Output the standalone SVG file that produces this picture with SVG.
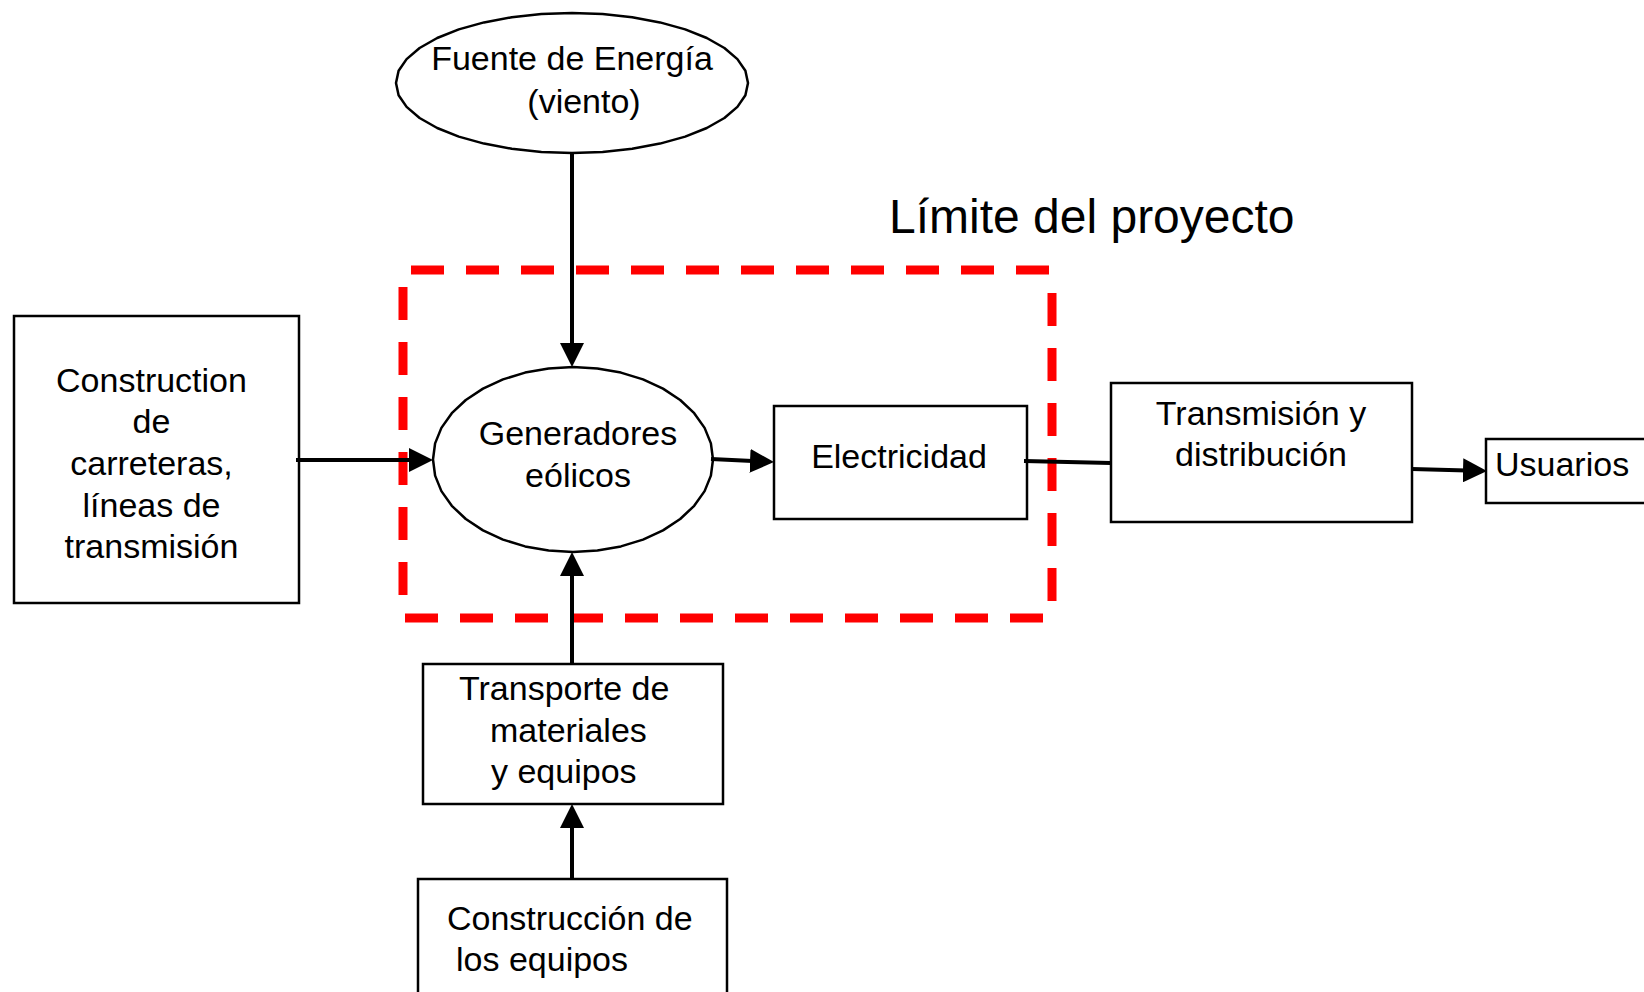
<svg xmlns="http://www.w3.org/2000/svg" width="1644" height="992" viewBox="0 0 1644 992">
<style>
  .box { fill: #fff; stroke: #000; stroke-width: 2.5; }
  .ell { fill: #fff; stroke: #000; stroke-width: 2.5; stroke-linejoin: round; }
  .lbl { font-family: "Liberation Sans", Arial, sans-serif; font-size: 34px; fill: #000; }
  .mid { text-anchor: middle; }
  .conn { stroke: #000; stroke-width: 4; fill: none; }
  .limit { stroke: #ff0000; stroke-width: 9; fill: none; stroke-dasharray: 33 22; }
  .title { font-family: "Liberation Sans", Arial, sans-serif; font-size: 48px; fill: #000; }
</style>
<defs>
  <marker id="arrow" markerUnits="userSpaceOnUse" markerWidth="24" markerHeight="24" viewBox="0 0 24 24" refX="13" refY="12" orient="auto">
    <path d="M0,0 L24,12 L0,24 z" fill="#000"/>
  </marker>
</defs>
<rect width="1644" height="992" fill="#fff"/>

<g id="limite">
  <line class="limit" x1="411" y1="270" x2="1054" y2="270"/>
  <line class="limit" x1="1052" y1="293" x2="1052" y2="606"/>
  <line class="limit" x1="405" y1="618" x2="1046" y2="618"/>
  <line class="limit" x1="403" y1="287" x2="403" y2="597"/>
  <text class="title" x="889" y="233">Límite del proyecto</text>
</g>

<g id="fuente">
  <polygon class="ell" points="748,83 745.4,95.2 737.4,106.9 724.4,118 706.8,128 685.2,136.6 660,143.6 632.2,148.8 602.6,152 572,153 541.4,152 511.8,148.8 484,143.6 458.8,136.6 437.2,128 419.6,118 406.6,106.9 398.6,95.2 396,83 398.6,70.8 406.6,59.1 419.6,48 437.2,38 458.8,29.4 484,22.4 511.8,17.2 541.4,14 572,13 602.6,14 632.2,17.2 660,22.4 685.2,29.4 706.8,38 724.4,48 737.4,59.1 745.4,70.8"/>
  <text class="lbl mid" x="572" y="70">Fuente de Energía</text>
  <text class="lbl mid" x="584" y="113">(viento)</text>
</g>

<g id="generadores">
  <polygon class="ell" points="713,459.5 710.9,475.6 704.6,491.1 694.2,505.8 680.2,519 663,530.4 643,539.6 620.9,546.4 597.4,550.6 573,552 548.6,550.6 525.1,546.4 503,539.6 483,530.4 465.8,519 451.8,505.8 441.4,491.1 435.1,475.6 433,459.5 435.1,443.4 441.4,427.9 451.8,413.2 465.8,400 483,388.6 503,379.4 525.1,372.6 548.6,368.4 573,367 597.4,368.4 620.9,372.6 643,379.4 663,388.6 680.2,400 694.2,413.2 704.6,427.9 710.9,443.4"/>
  <text class="lbl mid" x="578" y="445">Generadores</text>
  <text class="lbl mid" x="578" y="487">eólicos</text>
</g>

<g id="construction">
  <rect class="box" x="14" y="316" width="285" height="287"/>
  <text class="lbl mid" x="151.5" y="392">Construction</text>
  <text class="lbl mid" x="151.5" y="433">de</text>
  <text class="lbl mid" x="151.5" y="475">carreteras,</text>
  <text class="lbl mid" x="151.5" y="517">líneas de</text>
  <text class="lbl mid" x="151.5" y="558">transmisión</text>
</g>

<g id="electricidad">
  <rect class="box" x="774" y="406" width="253" height="113"/>
  <text class="lbl mid" x="899" y="468">Electricidad</text>
</g>

<g id="transmision">
  <rect class="box" x="1111" y="383" width="301" height="139"/>
  <text class="lbl mid" x="1261" y="425">Transmisión y</text>
  <text class="lbl mid" x="1261" y="466">distribución</text>
</g>

<g id="usuarios">
  <rect class="box" x="1486" y="439" width="170" height="64"/>
  <text class="lbl" x="1495" y="476">Usuarios</text>
</g>

<g id="transporte">
  <rect class="box" x="423" y="664" width="300" height="140"/>
  <text class="lbl" x="459" y="700">Transporte de</text>
  <text class="lbl" x="490" y="742">materiales</text>
  <text class="lbl" x="491" y="783">y equipos</text>
</g>

<g id="construccion-equipos">
  <rect class="box" x="418" y="879" width="309" height="130"/>
  <text class="lbl" x="447" y="930">Construcción de</text>
  <text class="lbl" x="456" y="971">los equipos</text>
</g>

<g id="connectors">
  <line class="conn" x1="572" y1="154" x2="572" y2="356" marker-end="url(#arrow)"/>
  <line class="conn" x1="296" y1="460" x2="422" y2="460" marker-end="url(#arrow)"/>
  <line class="conn" x1="572" y1="664" x2="572" y2="563" marker-end="url(#arrow)"/>
  <line class="conn" x1="572" y1="879" x2="572" y2="815" marker-end="url(#arrow)"/>
  <line class="conn" x1="711" y1="459" x2="763" y2="461.5" marker-end="url(#arrow)"/>
  <line class="conn" x1="1024" y1="461" x2="1111" y2="463"/>
  <line class="conn" x1="1412" y1="469" x2="1476" y2="470.7" marker-end="url(#arrow)"/>
</g>
</svg>
